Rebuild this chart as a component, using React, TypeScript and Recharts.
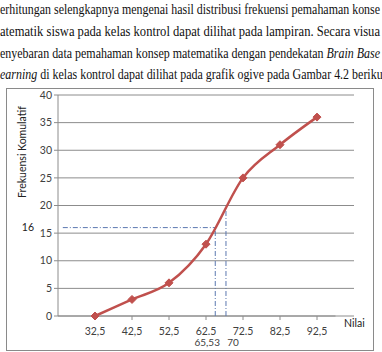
import React from 'react';
import {
  LineChart, Line, XAxis, YAxis, CartesianGrid, ReferenceLine,
} from 'recharts';

/* ───────── Data ───────── */

const NILAI = [32.5, 42.5, 52.5, 62.5, 72.5, 82.5, 92.5];
const NILAI_LABELS = ['32,5', '42,5', '52,5', '62.5', '72.5', '82,5', '92,5'];
const FREK_KUMULATIF = [0, 3, 6, 13, 25, 31, 36];
const Y_TICKS = [0, 5, 10, 15, 20, 25, 30, 35, 40];

// guide lines as drawn on the picture (x, y where they meet the curve)
const GUIDE_X = [65.0, 67.9];
const GUIDE_Y = [16, 20];
const GUIDE_LABELS = ['65,53', '70'];

const data = NILAI.map((x, i) => ({ x, y: FREK_KUMULATIF[i] }));

/* ───────── Theme ───────── */

const RED = '#c0504d';
const GRID = '#8c8c8c';
const AXIS_TEXT = '#404040';
const GUIDE = '#5b78b0';
const FONT = 'Lato, "Liberation Sans", sans-serif';
const SERIF = '"Liberation Serif", "DejaVu Serif", serif';

if (typeof document !== 'undefined') document.body.style.margin = '0';

function Diamond({ cx, cy }: { cx?: number; cy?: number }) {
  if (cx == null || cy == null) return null;
  const r = 4;
  return <path d={`M${cx},${cy - r}L${cx + r},${cy}L${cx},${cy + r}L${cx - r},${cy}Z`} fill={RED} stroke={RED} />;
}

function XTick({ x, y, payload, index }: any) {
  return (
    <text x={x} y={y + 13} textAnchor="middle" fontSize={10.5} fill={AXIS_TEXT} fontFamily={FONT}>
      {NILAI_LABELS[index] ?? payload.value}
    </text>
  );
}

/* ───────── Page text above the chart ───────── */

function PageText() {
  const common = { fontFamily: SERIF, fontSize: 15, fill: '#111', lengthAdjust: 'spacingAndGlyphs' as const };
  return (
    <svg width={382} height={88} style={{ position: 'absolute', left: 0, top: 0 }}>
      <text x={0} y={14} textLength={380} {...common}>
        erhitungan selengkapnya mengenai hasil distribusi frekuensi pemahaman konse
      </text>
      <text x={0} y={36} textLength={380} {...common}>
        atematik siswa pada kelas kontrol dapat dilihat pada lampiran. Secara visua
      </text>
      <text x={0} y={58} textLength={380} {...common}>
        enyebaran data pemahaman konsep matematika dengan pendekatan <tspan fontStyle="italic">Brain Base</tspan>
      </text>
      <text x={0} y={79} textLength={386} {...common}>
        <tspan fontStyle="italic">earning</tspan> di kelas kontrol dapat dilihat pada grafik ogive pada Gambar 4.2 berikut
      </text>
    </svg>
  );
}

export default function App() {
  return (
    <div style={{ position: 'relative', width: 382, height: 352, overflow: 'hidden', background: '#fff' }}>
      <PageText />

      <div style={{ position: 'absolute', left: 6, top: 88, width: 366, height: 261, border: '1px solid #8a8a8a' }} />

      <div style={{ position: 'absolute', left: 0, top: 0 }}>
        <LineChart width={382} height={352} data={data} margin={{ top: 95, right: 28, bottom: 16, left: 0 }}>
          <CartesianGrid vertical={false} stroke={GRID} />
          <XAxis
            dataKey="x"
            type="number"
            domain={[22.5, 102.5]}
            ticks={NILAI}
            tick={<XTick />}
            axisLine={false}
            tickLine={{ stroke: GRID }}
            tickSize={4}
            height={20}
            allowDataOverflow
          />
          <YAxis
            domain={[0, 40]}
            ticks={Y_TICKS}
            width={58}
            axisLine={{ stroke: GRID }}
            tickLine={{ stroke: GRID }}
            tickSize={4}
            tick={{ fontSize: 10.5, fill: AXIS_TEXT, fontFamily: FONT }}
          />
          <ReferenceLine segment={[{ x: 22.5, y: 0 }, { x: 97.5, y: 0 }]} stroke={GRID} />
          <ReferenceLine
            segment={[{ x: 23.8, y: GUIDE_Y[0] }, { x: GUIDE_X[0], y: GUIDE_Y[0] }]}
            stroke={GUIDE}
            strokeDasharray="5 2 1 2"
            label={(p: any) => (
              <text x={p.viewBox.x - 41} y={p.viewBox.y + 3} fontSize={10.5} fill="#222" fontFamily={FONT}>16</text>
            )}
          />
          {GUIDE_X.map((gx, i) => (
            <ReferenceLine
              key={i}
              segment={[{ x: gx, y: 0 }, { x: gx, y: GUIDE_Y[i] }]}
              stroke={GUIDE}
              strokeDasharray="5 2 1 2"
              label={(p: any) => (
                <text
                  x={p.viewBox.x + (i === 0 ? -8 : 7)}
                  y={p.viewBox.y + p.viewBox.height + 30}
                  textAnchor="middle" fontSize={10} fill={AXIS_TEXT} fontFamily={FONT}
                >
                  {GUIDE_LABELS[i]}
                </text>
              )}
            />
          ))}
          <Line
            type="monotone"
            dataKey="y"
            stroke={RED}
            strokeWidth={2.5}
            dot={<Diamond />}
            isAnimationActive={false}
          />
          <text
            x={26} y={152} transform="rotate(-90 26 152)" textAnchor="middle"
            fontSize={10.5} fill="#222" fontFamily={FONT}
          >
            Frekuensi Komulatif
          </text>
          <text x={344} y={327} fontSize={10.5} fill="#222" fontFamily={FONT}>Nilai</text>
        </LineChart>
      </div>
    </div>
  );
}
